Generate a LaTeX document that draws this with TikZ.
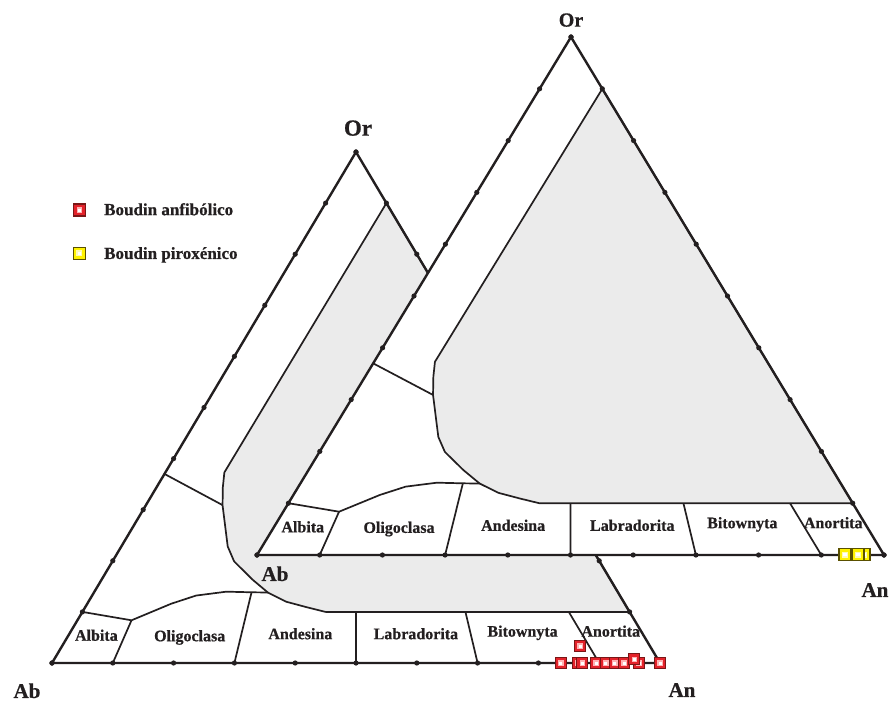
\documentclass[tikz,border=0pt]{standalone}
\usepackage{fontspec}
\setmainfont{Liberation Serif}[BoldFeatures={FakeBold=0.6}]
\definecolor{fieldgray}{HTML}{EBEBEB}
\definecolor{inkc}{HTML}{231F20}
\definecolor{mkred}{HTML}{E3232B}
\definecolor{mkredline}{HTML}{7A1616}
\definecolor{mkyellow}{HTML}{FFF200}
\definecolor{mkyellowline}{HTML}{5A5000}

% Feldspar classification fields, drawn in ternary coordinates (An, Or)
\newcommand{\feldsparfields}{%
  % shaded field of ternary feldspars
  \filldraw[grayfield] (0.1,0.9) -- (0.097,0.373) -- (0.109,0.344) -- (0.126,0.309)
     -- (0.175,0.228) -- (0.200,0.199) -- (0.247,0.164) -- (0.286,0.138)
     -- (0.325,0.120) -- (0.365,0.109) -- (0.400,0.100) -- (0.9,0.1) -- cycle;
  % upper limit of the plagioclase series
  \draw[bound] (0,0.1) -- (0.089,0.0836) -- (0.138,0.116) -- (0.171,0.132)
     -- (0.217,0.1396) -- (0.259,0.1384) -- (0.286,0.138);
  % plagioclase subdivisions
  \draw[bound] (0.1,0) -- (0.089,0.0836);
  \draw[bound] (0.3,0) -- (0.259,0.1384);
  \draw[bound] (0.5,0) -- (0.45,0.1);
  \draw[bound] (0.7,0) -- (0.63,0.1);
  \draw[bound] (0.9,0) -- (0.8,0.1);
  % alkali feldspar limit
  \draw[bound] (0,0.37) -- (0.126,0.309);
  % triangle with 10 % ticks
  \draw[edge] (0,0) -- (1,0) -- (0,1) -- cycle;
  \foreach \k in {0,1,...,10}{%
    \pgfmathsetmacro{\t}{\k/10}%
    \fill[inkc] (\t,0) circle[radius=2.6pt];
    \fill[inkc] (0,\t) circle[radius=2.6pt];
    \fill[inkc] (\t,{1-\t}) circle[radius=2.6pt];
  }
  \node[fieldlabel] (albita) at (0.046,0.054) {Albita};
  \node[fieldlabel] (oligoclasa) at (0.200,0.053) {Oligoclasa};
  \node[fieldlabel] (andesina) at (0.380,0.057) {Andesina};
  \node[fieldlabel] (labradorita) at (0.570,0.057) {Labradorita};
  \node[fieldlabel] (bitownyta) at (0.743,0.062) {Bitownyta};
  \node[fieldlabel] (anortita) at (0.888,0.062) {Anortita};
}

\begin{document}
\begin{tikzpicture}[x=1pt,y=-1pt,
  edge/.style={draw=inkc, line width=2.4pt, line join=miter},
  bound/.style={draw=inkc, line width=1.7pt, line join=round},
  grayfield/.style={fill=fieldgray, draw=inkc, line width=1.7pt, line join=round},
  fieldlabel/.style={font=\fontsize{16}{18}\selectfont\bfseries, text=inkc,
    inner sep=0pt, text height=10.6pt, text depth=0pt},
  vertexlabel/.style={font=\fontsize{21}{24}\selectfont\bfseries, text=inkc,
    inner sep=0pt, text height=13.9pt, text depth=0pt},
  legendtext/.style={font=\fontsize{17}{20}\selectfont\bfseries, text=inkc,
    anchor=west, inner sep=0pt, text height=11.3pt, text depth=0pt},
  redsq/.style={rectangle, minimum size=11pt, inner sep=0pt, draw=mkredline,
    line width=1.1pt, fill=mkred,
    path picture={
      \fill[red!30!white] ([shift={(-2.8pt,-2.8pt)}]path picture bounding box.center)
        rectangle ([shift={(2.8pt,2.8pt)}]path picture bounding box.center);
      \fill[white] ([shift={(-1.5pt,-1.5pt)}]path picture bounding box.center)
        rectangle ([shift={(1.5pt,1.5pt)}]path picture bounding box.center);}},
  yelsq/.style={rectangle, minimum size=12pt, inner sep=0pt, draw=mkyellowline,
    line width=1.1pt, fill=mkyellow,
    path picture={
      \fill[yellow!30!white] ([shift={(-3pt,-3pt)}]path picture bounding box.center)
        rectangle ([shift={(3pt,3pt)}]path picture bounding box.center);
      \fill[white] ([shift={(-1.6pt,-1.6pt)}]path picture bounding box.center)
        rectangle ([shift={(1.6pt,1.6pt)}]path picture bounding box.center);}},
]
\useasboundingbox (0,0) rectangle (889,702);
\fill[white] (0,0) rectangle (889,702);

% front triangle (boudin anfibólico)
\begin{scope}[shift={(52,663)}, x={(608pt,0pt)}, y={(304pt,511pt)}, name prefix=L-]
  \feldsparfields
\end{scope}
\node[vertexlabel, font=\fontsize{23}{26}\selectfont\bfseries, text height=15.2pt] (LOr) at (358,128) {Or};
\node[vertexlabel] (LAb) at (27,691) {Ab};
\node[vertexlabel] (LAn) at (682,690) {An};

% back triangle (boudin piroxénico), opaque over the front one
\begin{scope}[shift={(257,555)}, x={(627pt,0pt)}, y={(314pt,518pt)}, name prefix=R-]
  \fill[white] (0,0) -- (1,0) -- (0,1) -- cycle;
  \feldsparfields
\end{scope}
\node[vertexlabel, font=\fontsize{20}{23}\selectfont\bfseries, text height=13.2pt] (ROr) at (571,20) {Or};
\node[vertexlabel] (RAb) at (275,574) {Ab};
\node[vertexlabel] (RAn) at (875,590) {An};

% analyses, boudin anfibólico
\node[redsq] (a1) at (578,663) {};
\node[redsq] (a2) at (639,663) {};
\node[redsq] (a3) at (560.7,663) {};
\node[redsq] (a4) at (582.3,663) {};
\node[redsq] (a5) at (596,663) {};
\node[redsq] (a6) at (605.7,663) {};
\node[redsq] (a7) at (614.7,663) {};
\node[redsq] (a8) at (624,663) {};
\node[redsq] (a9) at (634.3,659.3) {};
\node[redsq] (a10) at (660,663) {};
\node[redsq] (a11) at (580,646) {};

% analyses, boudin piroxénico
\node[yelsq] (p1) at (864,554.5) {};
\node[yelsq] (p2) at (858,554.5) {};
\node[yelsq] (p3) at (845,554.5) {};

% legend
\node[redsq, minimum size=12pt] (legA) at (79.3,210) {};
\node[legendtext] (legAt) at (104,209.5) {Boudin anfibólico};
\node[yelsq, minimum size=12pt] (legP) at (79.3,253.3) {};
\node[legendtext] (legPt) at (104,253.3) {Boudin piroxénico};
\end{tikzpicture}
\end{document}
